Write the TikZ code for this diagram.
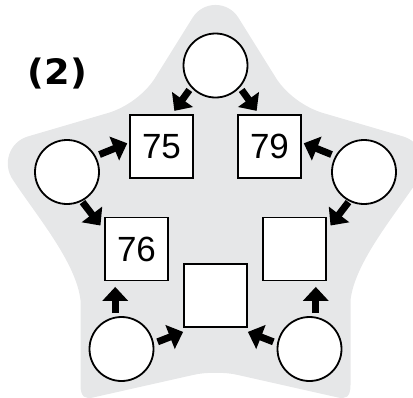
\documentclass[tikz,border=0pt]{standalone}
\usepackage{fontspec}
\setmainfont{Liberation Sans}
\newfontfamily\labelfont{DejaVu Sans}
\usetikzlibrary{arrows.meta}
\definecolor{stargray}{HTML}{E6E7E8}
\tikzset{
  circ/.style={circle,draw=black,fill=white,line width=1.8pt,minimum size=64pt,inner sep=0pt},
  sq/.style={rectangle,draw=black,fill=white,line width=1.8pt,minimum size=63pt,inner sep=0pt,font=\fontsize{35}{40}\selectfont},
  arr/.style={line width=7pt,-{Triangle[length=14pt,width=25pt]}}
}
\begin{document}
\begin{tikzpicture}[x=1pt,y=-1pt]
\useasboundingbox (0,0) rectangle (413,397);
% star background
\fill[stargray] (192.6,17.7) .. controls (203.2,0.7) and (227.8,0.7) .. (238.4,17.7)
  -- (276,78) .. controls (285.7,93.5) and (304.5,107.5) .. (323,113)
  -- (403.3,136.5) .. controls (421.8,142.1) and (429.1,164.1) .. (417.9,180.1)
  .. controls (395,215) and (355,262) .. (350.5,300)
  -- (350.5,385) .. controls (350.5,398) and (345,399) .. (338,397.5)
  -- (238,375) .. controls (226,372) and (205,372) .. (193,375)
  -- (93,397.5) .. controls (86,399) and (80.5,398) .. (80.5,385)
  -- (80.5,300) .. controls (76,262) and (36,215) .. (13.1,180.1)
  .. controls (1.9,164.1) and (9.2,142.1) .. (27.7,136.5)
  -- (108,113) .. controls (126.5,107.5) and (145.3,93.5) .. (155,78)
  -- cycle;
% label
\node[inner sep=0pt] (lbl) at (57.5,73.5) {\scalebox{1.05}[1]{\labelfont\bfseries\fontsize{35}{40}\selectfont (2)}};
% circles
\node[circ] (ct) at (215.5,65.5) {};
\node[circ] (cl) at (67,172) {};
\node[circ] (cr) at (364,172) {};
\node[circ] (cbl) at (121.5,349) {};
\node[circ] (cbr) at (309.5,349) {};
% boxes
\node[sq] (b75) at (161.5,146.5) {75};
\node[sq] (b79) at (269.5,146.5) {79};
\node[sq] (b76) at (136.5,249) {76};
\node[sq] (br) at (294.5,249) {};
\node[sq] (bm) at (215.5,295.5) {};
% arrows
\draw[arr,shorten <=3pt,shorten >=4pt] (ct.222) -- (b75.72);
\draw[arr,shorten <=3pt,shorten >=4pt] (ct.318) -- (b79.108);
\draw[arr,shorten <=4pt,shorten >=2pt] (cl.29) -- (b75.173);
\draw[arr,shorten <=4pt,shorten >=2pt] (cr.151) -- (b79.7);
\draw[arr,shorten <=1pt,shorten >=6pt] (cl.297) -- (b76.150);
\draw[arr,shorten <=1pt,shorten >=6pt] (cr.243) -- (br.30);
\draw[arr,shorten <=3.5pt,shorten >=5.5pt] (cbl.101) -- (cbl.101 |- b76.south);
\draw[arr,shorten <=3.5pt,shorten >=5.5pt] (cbr.79) -- (cbr.79 |- br.south);
\draw[arr,shorten <=4pt] (cbl.10) -- ([yshift=-4pt]bm.south west);
\draw[arr,shorten <=4pt] (cbr.170) -- ([yshift=-4pt]bm.south east);
\end{tikzpicture}
\end{document}
